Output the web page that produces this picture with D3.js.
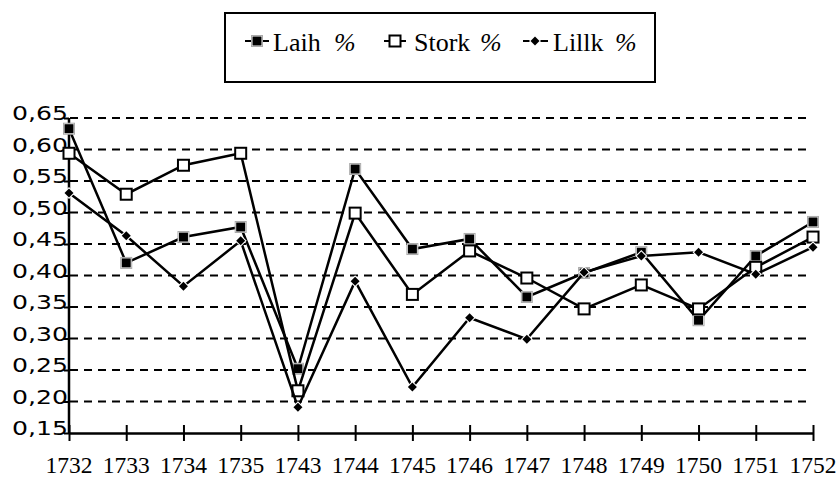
<!DOCTYPE html>
<html><head><meta charset="utf-8">
<script src="https://cdn.jsdelivr.net/npm/d3@7"></script>
<style>html,body{margin:0;padding:0;background:#fff;}svg{display:block;}</style>
</head><body>
<svg id="chart" width="838" height="477"></svg>
<script>
const years = ["1732","1733","1734","1735","1743","1744","1745","1746","1747","1748","1749","1750","1751","1752"];
const laih  = [0.633,0.420,0.461,0.477,0.252,0.569,0.442,0.458,0.366,0.404,0.437,0.329,0.431,0.485];
const stork = [0.594,0.529,0.575,0.594,0.217,0.499,0.370,0.439,0.396,0.347,0.385,0.347,0.413,0.461];
const lillk = [0.531,0.463,0.383,0.455,0.191,0.391,0.223,0.333,0.299,0.405,0.431,0.437,0.402,0.445];
const yTicks = [0.15,0.20,0.25,0.30,0.35,0.40,0.45,0.50,0.55,0.60,0.65];
const seriesNames = ["Laih","Stork","Lillk"];

const svg = d3.select("#chart");
const x = d3.scalePoint().domain(years).range([69, 813]);
const y = d3.scaleLinear().domain([0.15, 0.65]).range([433, 118]);

// gridlines
svg.append("g").selectAll("line").data(yTicks.filter(v => v > 0.15)).join("line")
  .attr("x1", 70).attr("x2", 806)
  .attr("y1", d => y(d)).attr("y2", d => y(d))
  .attr("stroke", "#000").attr("stroke-width", 2).attr("stroke-dasharray", "8,6");

// y axis
const yAxis = d3.axisLeft(y).tickValues(yTicks).tickSize(5).tickFormat("");
const gy = svg.append("g").attr("transform", "translate(69,0)").call(yAxis);
gy.select(".domain").attr("stroke", "#000").attr("stroke-width", 2.5).attr("d", `M0,${y(0.65)}V${y(0.15)}`);
gy.selectAll(".tick line").attr("stroke-width", 2);
svg.append("g").selectAll("text").data(yTicks).join("text")
  .style("font-family", "DejaVu Sans")
  .style("font-size", "19px")
  .attr("x", 68).attr("y", d => y(d) + 2)
  .attr("text-anchor", "end")
  .attr("textLength", 56).attr("lengthAdjust", "spacingAndGlyphs")
  .text(d => d3.format(".2f")(d).replace(".", ","));

// x axis
const xAxis = d3.axisBottom(x).tickSizeInner(8).tickSizeOuter(0).tickFormat("");
const gx = svg.append("g").attr("transform", `translate(0,${y(0.15)})`).call(xAxis);
gx.select(".domain").attr("stroke", "#000").attr("stroke-width", 2.5);
gx.selectAll(".tick line").attr("y1", -8).attr("y2", 8).attr("stroke-width", 2);
svg.append("g").selectAll("text").data(years).join("text")
  .style("font-family", "Liberation Serif")
  .style("font-size", "23.5px")
  .attr("x", d => x(d)).attr("y", 473)
  .attr("text-anchor", "middle")
  .text(d => d);

// markers
function drawMarker(g, type, cx, cy) {
  if (type === 0) {
    g.append("rect").attr("x", cx - 5.5).attr("y", cy - 5.5).attr("width", 11).attr("height", 11)
      .attr("fill", "#fff").attr("stroke", "#aaa").attr("stroke-width", 1);
    g.append("rect").attr("x", cx - 4.5).attr("y", cy - 4.5).attr("width", 9).attr("height", 9).attr("fill", "#000");
  } else if (type === 1) {
    g.append("rect").attr("x", cx - 5.5).attr("y", cy - 5.5).attr("width", 11).attr("height", 11)
      .attr("fill", "#fff").attr("stroke", "#000").attr("stroke-width", 2);
  } else {
    g.append("path").attr("d", `M${cx},${cy-6}L${cx+6},${cy}L${cx},${cy+6}L${cx-6},${cy}Z`)
      .attr("fill", "#fff");
    g.append("path").attr("d", `M${cx},${cy-4.5}L${cx+4.5},${cy}L${cx},${cy+4.5}L${cx-4.5},${cy}Z`)
      .attr("fill", "#000");
  }
}

const allSeries = [laih, stork, lillk];
const line = d3.line().x((d, i) => x(years[i])).y(d => y(d));
allSeries.forEach((vals, s) => {
  const g = svg.append("g");
  g.append("path").datum(vals).attr("d", line)
    .attr("fill", "none").attr("stroke", "#000").attr("stroke-width", 2.5);
  vals.forEach((v, i) => drawMarker(g, s, x(years[i]), y(v)));
});

// legend
svg.append("rect").attr("x", 225).attr("y", 13).attr("width", 430).attr("height", 69)
  .attr("fill", "#fff").attr("stroke", "#000").attr("stroke-width", 2);
const leg = [
  {x1: 245, x2: 269, mx: 257, tx: 273, px: 334},
  {x1: 384, x2: 406, mx: 395, tx: 414, px: 480},
  {x1: 523, x2: 548, mx: 535, tx: 553, px: 615}
];
leg.forEach((L, s) => {
  const g = svg.append("g");
  g.append("line").attr("x1", L.x1).attr("x2", L.x2).attr("y1", 41).attr("y2", 41)
    .attr("stroke", "#000").attr("stroke-width", 2);
  drawMarker(g, s, L.mx, 41);
  g.append("text").style("font-family", "Liberation Serif").style("font-size", "26px")
    .attr("x", L.tx).attr("y", 51).text(seriesNames[s]);
  g.append("text").style("font-family", "Liberation Serif").style("font-size", "26px")
    .style("font-style", "italic")
    .attr("x", L.px).attr("y", 51).text("%");
});
</script>
</body></html>
